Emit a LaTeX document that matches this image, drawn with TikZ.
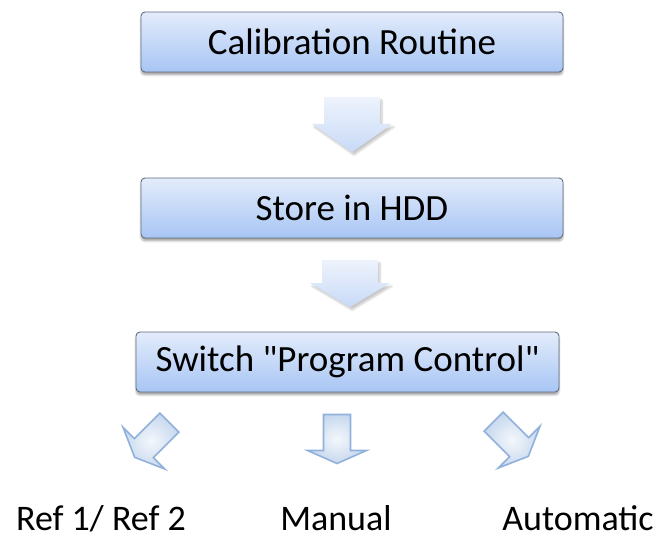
\documentclass[tikz,border=0pt]{standalone}
\usepackage{fontspec}
\setmainfont{Carlito}
\usetikzlibrary{shadows.blur}

\definecolor{boxtop}{HTML}{E3ECFB}
\definecolor{boxbottom}{HTML}{A7C5F4}
\definecolor{boxline}{HTML}{626E80}
\definecolor{flowtop}{HTML}{EEF3FC}
\definecolor{flowbottom}{HTML}{C8DAF7}
\definecolor{branchline}{HTML}{90B1DC}
\definecolor{branchfill}{HTML}{C7D8EE}

\begin{document}
\begin{tikzpicture}[x=1pt,y=1pt,
  stage/.style={draw=boxline, line width=0.9pt, rounded corners=4pt,
    top color=boxtop, bottom color=boxbottom,
    minimum width=422pt, minimum height=60pt,
    blur shadow={shadow xshift=0pt, shadow yshift=-3pt, shadow blur steps=5, shadow opacity=35},
    font=\fontsize{37}{44}\selectfont},
  choice/.style={anchor=base, inner sep=0pt, font=\fontsize{36}{40}\selectfont},
  pics/bigarrow/.style={code={
    \path[blur shadow={shadow xshift=2pt, shadow yshift=-3pt, shadow blur steps=6, shadow opacity=22},
      top color=flowtop, bottom color=flowbottom]
      (-28,0) -- (28,0) -- (28,-27) -- (40,-27) -- (0,-55) -- (-40,-27) -- (-28,-27) -- cycle;
  }},
  pics/branch/.style={code={
    \path[draw=branchline, line width=1.6pt, line join=miter,
      inner color=white!80!branchfill, outer color=branchfill]
      (-13.5,24.5) -- (13.5,24.5) -- (13.5,-11.5) -- (29.5,-11.5) -- (0,-24.5)
      -- (-29.5,-11.5) -- (-13.5,-11.5) -- cycle;
  }}]
  \useasboundingbox (0,0) rectangle (659,539);

  % the three stages
  \node[stage] (calib) at (352,497) {Calibration Routine};
  \node[stage] (store) at (352,331) {Store in HDD};
  \node[stage, minimum width=423pt] (switch) at (347.5,177)
    {Switch \textquotedbl Program Control\textquotedbl};

  % block arrows between the stages
  \pic at (352,442) {bigarrow};
  \pic[yscale=0.855] at (350,279) {bigarrow};

  % the three ways out of the switch
  \pic[rotate=-45] at (152,99) {branch};
  \pic at (337,100) {branch};
  \pic[rotate=45] at (511,100) {branch};

  \node[choice] (ref) at (101,9) {Ref 1/ Ref 2};
  \node[choice] (manual) at (336,9) {Manual};
  \node[choice] (auto) at (578,9) {Automatic};
\end{tikzpicture}
\end{document}
